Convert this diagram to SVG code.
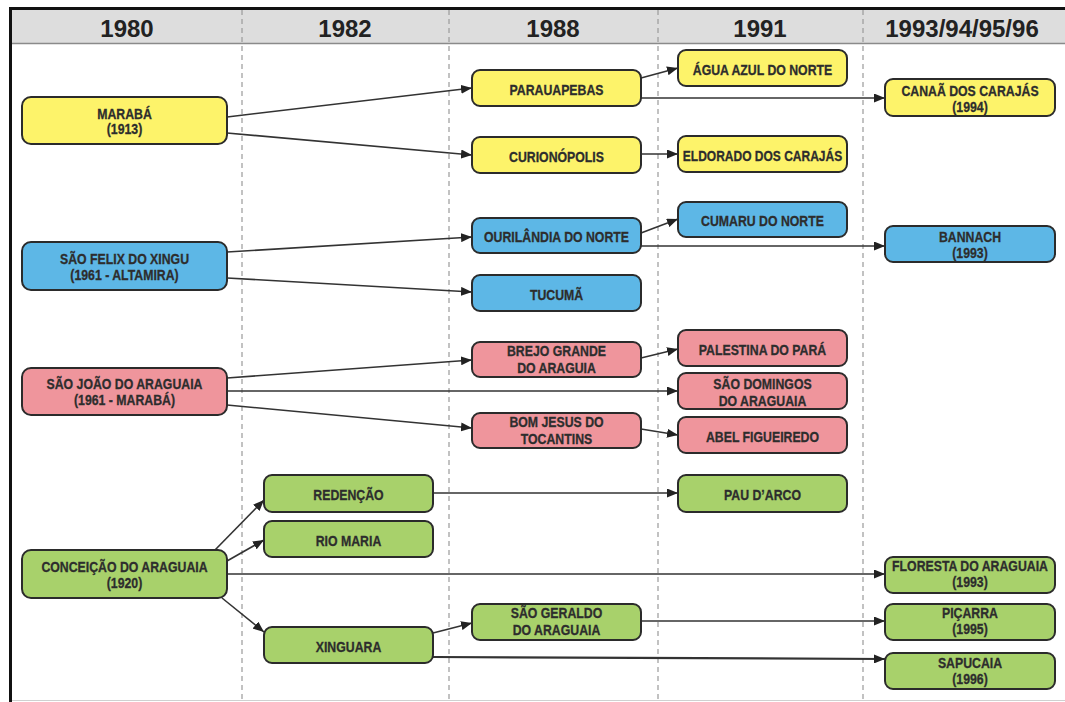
<svg xmlns="http://www.w3.org/2000/svg" width="1065" height="702" viewBox="0 0 1065 702">
<style>
.hdr{font-family:"Liberation Sans",Arial,sans-serif;font-weight:bold;font-size:24px;fill:#222;text-anchor:middle}
.t{font-family:"Liberation Sans",Arial,sans-serif;font-weight:bold;font-size:15px;fill:#2d2d2d;stroke:#2d2d2d;stroke-width:.3;text-anchor:middle}
.n{stroke:#2b2b2b;stroke-width:2}
.y{fill:#fdf36a}.b{fill:#5db7e6}.p{fill:#ef959c}.g{fill:#a8d16b}
.div{stroke:#9a9a9a;stroke-width:1.2;stroke-dasharray:5 4;fill:none}
.c path{stroke:#333;stroke-width:1.6;fill:none;marker-end:url(#ah)}
</style>
<defs>
<marker id="ah" markerUnits="userSpaceOnUse" markerWidth="11" markerHeight="9" refX="11" refY="4.5" orient="auto">
<path d="M0,0 L11,4.5 L0,9 z" fill="#222"/>
</marker>
</defs>
<rect x="0" y="0" width="1065" height="702" fill="#ffffff"/>
<g id="frame">
<rect x="12" y="10" width="1053" height="33" fill="#dddddd"/>
<line x1="12" y1="43.5" x2="1065" y2="43.5" stroke="#8a8a8a" stroke-width="1.5"/>
<line x1="10" y1="8.5" x2="1065" y2="8.5" stroke="#111" stroke-width="3"/>
<line x1="10.5" y1="7" x2="10.5" y2="702" stroke="#111" stroke-width="3"/>
<line x1="12" y1="700.5" x2="1065" y2="700.5" stroke="#d0d0d0" stroke-width="1"/>
<line class="div" x1="242" y1="10" x2="242" y2="702"/>
<line class="div" x1="449" y1="10" x2="449" y2="702"/>
<line class="div" x1="658" y1="10" x2="658" y2="702"/>
<line class="div" x1="863" y1="10" x2="863" y2="702"/>
<text class="hdr" x="127" y="37">1980</text>
<text class="hdr" x="345" y="37">1982</text>
<text class="hdr" x="553" y="37">1988</text>
<text class="hdr" x="760" y="37">1991</text>
<text class="hdr" x="962" y="37">1993/94/95/96</text>
</g>
<g id="connectors" class="c">
<path d="M227,117 L472,88"/>
<path d="M227,133 L472,155"/>
<path d="M641,78 L678,68"/>
<path d="M641,98 L885,98"/>
<path d="M641,154 L678,154"/>
<path d="M227,252 L472,237"/>
<path d="M227,278 L472,292"/>
<path d="M641,233 L678,219"/>
<path d="M641,246 L885,246"/>
<path d="M227,378 L472,360"/>
<path d="M227,391 L678,391"/>
<path d="M227,405 L472,428"/>
<path d="M641,358 L678,349"/>
<path d="M641,429 L678,435"/>
<path d="M215,550 L264,500"/>
<path d="M227,561 L264,540"/>
<path d="M227,574 L885,574"/>
<path d="M222,598 L264,632"/>
<path d="M433,493 L678,493"/>
<path d="M433,633 L472,623"/>
<path d="M641,621 L885,621"/>
<path d="M433,657 L885,659" style="stroke-width:2.2"/>
</g>
<g id="maraba"><rect class="n y" x="22" y="97" width="205" height="47" rx="9"/>
<text class="t" transform="translate(124.5,119) scale(.82,1)">MARABÁ</text>
<text class="t" transform="translate(124.5,134) scale(.82,1)">(1913)</text></g>
<g id="sao-felix"><rect class="n b" x="22" y="242" width="205" height="48" rx="9"/>
<text class="t" transform="translate(124.5,264) scale(.82,1)">SÃO FELIX DO XINGU</text>
<text class="t" transform="translate(124.5,280) scale(.82,1)">(1961 - ALTAMIRA)</text></g>
<g id="sao-joao"><rect class="n p" x="22" y="368" width="205" height="47" rx="9"/>
<text class="t" transform="translate(124.5,389) scale(.82,1)">SÃO JOÃO DO ARAGUAIA</text>
<text class="t" transform="translate(124.5,405) scale(.82,1)">(1961 - MARABÁ)</text></g>
<g id="conceicao"><rect class="n g" x="22" y="550" width="205" height="48" rx="9"/>
<text class="t" transform="translate(124.5,572) scale(.82,1)">CONCEIÇÃO DO ARAGUAIA</text>
<text class="t" transform="translate(124.5,588) scale(.82,1)">(1920)</text></g>
<g id="redencao"><rect class="n g" x="264" y="475" width="169" height="37" rx="8"/>
<text class="t" transform="translate(348.5,500) scale(.82,1)">REDENÇÃO</text></g>
<g id="rio-maria"><rect class="n g" x="264" y="521" width="169" height="36" rx="8"/>
<text class="t" transform="translate(348.5,545.5) scale(.82,1)">RIO MARIA</text></g>
<g id="xinguara"><rect class="n g" x="264" y="627" width="169" height="36" rx="8"/>
<text class="t" transform="translate(348.5,651.5) scale(.82,1)">XINGUARA</text></g>
<g id="parauapebas"><rect class="n y" x="472" y="70" width="169" height="36" rx="8"/>
<text class="t" transform="translate(556.5,94.5) scale(.82,1)">PARAUAPEBAS</text></g>
<g id="curionopolis"><rect class="n y" x="472" y="137" width="169" height="36" rx="8"/>
<text class="t" transform="translate(556.5,161.5) scale(.82,1)">CURIONÓPOLIS</text></g>
<g id="ourilandia"><rect class="n b" x="472" y="218" width="169" height="35" rx="8"/>
<text class="t" transform="translate(556.5,242) scale(.82,1)">OURILÂNDIA DO NORTE</text></g>
<g id="tucuma"><rect class="n b" x="472" y="275" width="169" height="36" rx="8"/>
<text class="t" transform="translate(556.5,299.5) scale(.82,1)">TUCUMÃ</text></g>
<g id="brejo-grande"><rect class="n p" x="472" y="342" width="169" height="35" rx="8"/>
<text class="t" transform="translate(556.5,356) scale(.82,1)">BREJO GRANDE</text>
<text class="t" transform="translate(556.5,373) scale(.82,1)">DO ARAGUIA</text></g>
<g id="bom-jesus"><rect class="n p" x="472" y="413" width="169" height="35" rx="8"/>
<text class="t" transform="translate(556.5,427) scale(.82,1)">BOM JESUS DO</text>
<text class="t" transform="translate(556.5,444) scale(.82,1)">TOCANTINS</text></g>
<g id="sao-geraldo"><rect class="n g" x="472" y="604" width="169" height="36" rx="8"/>
<text class="t" transform="translate(556.5,618) scale(.82,1)">SÃO GERALDO</text>
<text class="t" transform="translate(556.5,635) scale(.82,1)">DO ARAGUAIA</text></g>
<g id="agua-azul"><rect class="n y" x="678" y="50" width="169" height="36" rx="8"/>
<text class="t" transform="translate(762.5,75) scale(.82,1)">ÁGUA AZUL DO NORTE</text></g>
<g id="eldorado"><rect class="n y" x="678" y="136" width="169" height="36" rx="8"/>
<text class="t" transform="translate(762.5,160.5) scale(.8,1)">ELDORADO DOS CARAJÁS</text></g>
<g id="cumaru"><rect class="n b" x="678" y="202" width="169" height="35" rx="8"/>
<text class="t" transform="translate(762.5,226) scale(.82,1)">CUMARU DO NORTE</text></g>
<g id="palestina"><rect class="n p" x="678" y="330" width="169" height="36" rx="8"/>
<text class="t" transform="translate(762.5,354.5) scale(.82,1)">PALESTINA DO PARÁ</text></g>
<g id="sao-domingos"><rect class="n p" x="678" y="373" width="169" height="36" rx="8"/>
<text class="t" transform="translate(762.5,389) scale(.82,1)">SÃO DOMINGOS</text>
<text class="t" transform="translate(762.5,406) scale(.82,1)">DO ARAGUAIA</text></g>
<g id="abel"><rect class="n p" x="678" y="417" width="169" height="36" rx="8"/>
<text class="t" transform="translate(762.5,441.5) scale(.82,1)">ABEL FIGUEIREDO</text></g>
<g id="pau-darco"><rect class="n g" x="678" y="475" width="169" height="37" rx="8"/>
<text class="t" transform="translate(762.5,500) scale(.82,1)">PAU D’ARCO</text></g>
<g id="canaa"><rect class="n y" x="885" y="79" width="170" height="37" rx="8"/>
<text class="t" transform="translate(970,96) scale(.82,1)">CANAÃ DOS CARAJÁS</text>
<text class="t" transform="translate(970,112) scale(.82,1)">(1994)</text></g>
<g id="bannach"><rect class="n b" x="885" y="226" width="170" height="36" rx="8"/>
<text class="t" transform="translate(970,242) scale(.82,1)">BANNACH</text>
<text class="t" transform="translate(970,258) scale(.82,1)">(1993)</text></g>
<g id="floresta"><rect class="n g" x="885" y="557" width="170" height="36" rx="8"/>
<text class="t" transform="translate(970,571) scale(.82,1)">FLORESTA DO ARAGUAIA</text>
<text class="t" transform="translate(970,587) scale(.82,1)">(1993)</text></g>
<g id="picarra"><rect class="n g" x="885" y="604" width="170" height="36" rx="8"/>
<text class="t" transform="translate(970,618) scale(.82,1)">PIÇARRA</text>
<text class="t" transform="translate(970,634) scale(.82,1)">(1995)</text></g>
<g id="sapucaia"><rect class="n g" x="885" y="653" width="170" height="36" rx="8"/>
<text class="t" transform="translate(970,668) scale(.82,1)">SAPUCAIA</text>
<text class="t" transform="translate(970,684) scale(.82,1)">(1996)</text></g>
</svg>
